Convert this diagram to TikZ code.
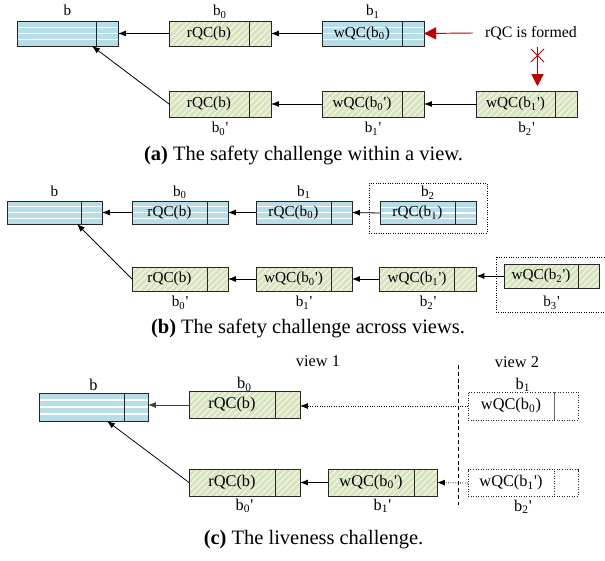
\documentclass[tikz,border=0pt]{standalone}
\usepackage{fontspec}
\setmainfont{Liberation Serif}
\usetikzlibrary{arrows.meta, calc, patterns.meta}
\definecolor{qcblue}{HTML}{B7DEE8}
\definecolor{qcgreen}{HTML}{D7E4BD}
\definecolor{qcred}{HTML}{C00000}
\newcommand{\px}{0.63pt}
\newcommand{\bsub}[1]{b\textsubscript{#1}}
\newcommand{\bpr}[1]{b\textsubscript{#1}\textquotesingle}
% name, look, centre of left part, left width, right width, height, text
\newcommand{\qcblk}[7]{%
  \node[blk, #2, minimum width=#4*\px, minimum height=#6*\px] (#1) at #3 {#7};
  \node[blk, #2, minimum width=#5*\px, minimum height=#6*\px, anchor=west] (#1t) at (#1.east) {};}

\begin{document}
\begin{tikzpicture}[x=0.63pt, y=-0.63pt,
  blk/.style={rectangle, draw=black!85, line width=0.6pt, inner sep=0pt,
              outer sep=0pt, font=\fontsize{9.6}{11}\selectfont},
  bluebk/.style={fill=qcblue, path picture={
      \foreach \f in {0.25,0.5,0.75}
        \draw[white, line width=0.7pt]
          ($(path picture bounding box.south west)!\f!(path picture bounding box.north west)$) --
          ($(path picture bounding box.south east)!\f!(path picture bounding box.north east)$);}},
  greenbk/.style={preaction={fill=qcgreen},
                  pattern={Lines[angle=45, distance=2.8pt, line width=0.45pt]},
                  pattern color=white},
  openbk/.style={fill=white, densely dotted},
  bigtxt/.style={font=\fontsize{10.3}{12}\selectfont},
  lbl/.style={font=\fontsize{9.6}{11}\selectfont, inner sep=0pt, anchor=base},
  arr/.style={-{Latex[length=5pt, width=3.8pt]}, line width=0.5pt},
  redarr/.style={-{Triangle[length=7.6pt, width=7.6pt]}, qcred, line width=0.6pt},
  grp/.style={densely dotted, line width=0.5pt},
  captxt/.style={font=\fontsize{12.9}{15}\selectfont, inner sep=0pt, anchor=base}]

\useasboundingbox (0,0) rectangle (605,561);

%% (a)
\qcblk{a-b}{bluebk}{(56.5,33.5)}{79}{22}{25}{}
\qcblk{a-b0}{greenbk}{(209,33.5)}{80}{22}{25}{rQC(b)}
\qcblk{a-b1}{bluebk}{(362,33.5)}{80}{22}{25}{wQC(\bsub{0})}
\qcblk{a-b0p}{greenbk}{(209,104)}{80}{22}{26}{rQC(b)}
\qcblk{a-b1p}{greenbk}{(362,104)}{80}{22}{26}{wQC(\bpr{0})}
\qcblk{a-b2p}{greenbk}{(515.5,104)}{79}{22}{26}{wQC(\bpr{1})}

\node[lbl] (a-lb)   at ($(a-b.north west)!0.5!(a-bt.north east)+(0,-5)$) {b};
\node[lbl] (a-lb0)  at ($(a-b0.north west)!0.5!(a-b0t.north east)+(0,-5)$) {\bsub{0}};
\node[lbl] (a-lb1)  at ($(a-b1.north west)!0.5!(a-b1t.north east)+(0,-5)$) {\bsub{1}};
\node[lbl] (a-lb0p) at ($(a-b0p.south west)!0.5!(a-b0pt.south east)+(0,16)$) {\bpr{0}};
\node[lbl] (a-lb1p) at ($(a-b1p.south west)!0.5!(a-b1pt.south east)+(0,16)$) {\bpr{1}};
\node[lbl] (a-lb2p) at ($(a-b2p.south west)!0.5!(a-b2pt.south east)+(0,16)$) {\bpr{2}};

\draw[arr] (a-b0.west) -- (a-bt.east);
\draw[arr] (a-b1.west) -- (a-b0t.east);
\draw[arr] (a-b0p.west) -- ($(a-b.south east)+(-4,0)$);
\draw[arr] (a-b1p.west) -- (a-b0pt.east);
\draw[arr] (a-b2p.west) -- (a-b1pt.east);

\node[font=\fontsize{10}{12}\selectfont, inner xsep=7.5pt] (a-formed) at (531,33) {rQC is formed};
\draw[redarr] (a-formed.west) -- (a-b1t.east);
\coordinate (a-cut) at (537.5,47);
\draw[redarr, shorten >=3pt] (a-cut) -- (a-cut |- a-b2p.north);
\draw[qcred, line width=0.5pt] (531,49) -- (544,62) (531,62) -- (544,49);

\node[captxt] (a-cap) at (303.5,161) {\textbf{(a)} The safety challenge within a view.};

%% (b)
\qcblk{b-b}{bluebk}{(44,212.5)}{74}{21}{23}{}
\qcblk{b-b0}{bluebk}{(169.5,212.5)}{75}{21}{23}{rQC(b)}
\qcblk{b-b1}{bluebk}{(293.5,212.5)}{75}{21}{23}{rQC(\bsub{0})}
\qcblk{b-b2}{bluebk}{(417.5,213)}{75}{21}{23}{rQC(\bsub{1})}
\qcblk{b-b0p}{greenbk}{(169.5,279)}{75}{21}{24}{rQC(b)}
\qcblk{b-b1p}{greenbk}{(293.5,279)}{75}{21}{24}{wQC(\bpr{0})}
\qcblk{b-b2p}{greenbk}{(417,279)}{75}{22}{24}{wQC(\bpr{1})}
\qcblk{b-b3p}{greenbk}{(541,276)}{74}{21}{24}{wQC(\bpr{2})}

\draw[grp] (369,183) rectangle (487,233);
\draw[grp] (496,257) rectangle (612,312);

\node[lbl] (b-lb)   at ($(b-b.north west)!0.5!(b-bt.north east)+(0,-4.5)$) {b};
\node[lbl] (b-lb0)  at ($(b-b0.north west)!0.5!(b-b0t.north east)+(0,-4.5)$) {\bsub{0}};
\node[lbl] (b-lb1)  at ($(b-b1.north west)!0.5!(b-b1t.north east)+(0,-4.5)$) {\bsub{1}};
\node[lbl] (b-lb2)  at ($(b-b2.north west)!0.5!(b-b2t.north east)+(0,-4.5)$) {\bsub{2}};
\node[lbl] (b-lb0p) at ($(b-b0p.south west)!0.5!(b-b0pt.south east)+(0,16)$) {\bpr{0}};
\node[lbl] (b-lb1p) at ($(b-b1p.south west)!0.5!(b-b1pt.south east)+(0,16)$) {\bpr{1}};
\node[lbl] (b-lb2p) at ($(b-b2p.south west)!0.5!(b-b2pt.south east)+(0,16)$) {\bpr{2}};
\node[lbl] (b-lb3p) at ($(b-b3p.south west)!0.5!(b-b3pt.south east)+(0,19)$) {\bpr{3}};

\draw[arr] (b-b0.west) -- (b-bt.east);
\draw[arr] (b-b1.west) -- (b-b0t.east);
\draw[arr] (b-b2.west) -- (b-b1t.east);
\draw[arr] (b-b0p.west) -- ($(b-b.south east)+(-4,0)$);
\draw[arr] (b-b1p.west) -- (b-b0pt.east);
\draw[arr] (b-b2p.west) -- (b-b1pt.east);
\draw[arr] (b-b3p.west) -- (b-b3p.west -| b-b2pt.east);

\node[captxt] (b-cap) at (308,333) {\textbf{(b)} The safety challenge across views.};

%% (c)
\qcblk{c-b}{bluebk}{(81.5,407)}{85}{24}{28}{}
\qcblk{c-b0}{greenbk, bigtxt}{(232,405)}{86}{25}{26.5}{rQC(b)}
\qcblk{c-b1}{openbk, bigtxt}{(511,406)}{86}{24}{28}{wQC(\bsub{0})}
\qcblk{c-b0p}{greenbk, bigtxt}{(232,482.5)}{86}{25}{27}{rQC(b)}
\qcblk{c-b1p}{greenbk, bigtxt}{(371,482.5)}{86}{23}{27}{wQC(\bpr{0})}
\qcblk{c-b2p}{openbk, bigtxt}{(511,483)}{86}{24}{27}{wQC(\bpr{1})}
\draw[black!60, line width=0.6pt] (c-b1.north east) -- (c-b1.south east);

\draw[dashed, line width=0.6pt, dash pattern=on 2.5pt off 1.8pt] (458,365) -- (458,505);
\node[lbl, font=\fontsize{10.3}{12}\selectfont] (c-v1) at (318,366) {view 1};
\node[lbl, font=\fontsize{10.3}{12}\selectfont] (c-v2) at (517,367) {view 2};

\node[lbl, bigtxt] (c-lb)   at ($(c-b.north west)!0.5!(c-bt.north east)+(0,-3)$) {b};
\node[lbl, bigtxt] (c-lb0)  at ($(c-b0.north west)!0.5!(c-b0t.north east)+(0,-3)$) {\bsub{0}};
\node[lbl, bigtxt] (c-lb1)  at ($(c-b1.north west)!0.5!(c-b1t.north east)+(0,-3)$) {\bsub{1}};
\node[lbl, bigtxt] (c-lb0p) at ($(c-b0p.south west)!0.5!(c-b0pt.south east)+(0,14)$) {\bpr{0}};
\node[lbl, bigtxt] (c-lb1p) at ($(c-b1p.south west)!0.5!(c-b1pt.south east)+(0,14)$) {\bpr{1}};
\node[lbl, bigtxt] (c-lb2p) at ($(c-b2p.south west)!0.5!(c-b2pt.south east)+(0,15)$) {\bpr{2}};

\draw[arr, black!75] (c-b0.west) -- (c-b0.west -| c-bt.east);
\draw[arr, densely dotted] (c-b1.west) -- (c-b1.west -| c-b0t.east);
\draw[arr] (c-b0p.west) -- ($(c-b.south east)+(-17,0)$);
\draw[arr] (c-b1p.west) -- (c-b0pt.east);
\draw[arr, densely dotted] (c-b2p.west) -- (c-b1pt.east);

\node[captxt] (c-cap) at (313.5,544) {\textbf{(c)} The liveness challenge.};
\end{tikzpicture}
\end{document}
